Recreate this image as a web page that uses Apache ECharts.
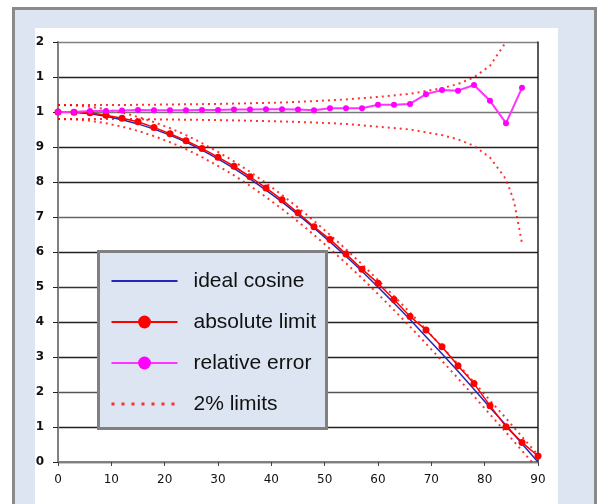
<!DOCTYPE html>
<html>
<head>
<meta charset="utf-8">
<script src="https://cdn.jsdelivr.net/npm/echarts@6/dist/echarts.min.js"></script>
<style>
  html, body { margin: 0; padding: 0; background: #fff; }
  .frame {
    position: absolute; left: 12px; top: 7px; width: 579px; height: 520px;
    background: #dce5f1; border: 3px solid #8a8a8a;
  }
  .sheet {
    position: absolute; left: 35px; top: 28px; width: 523px; height: 490px;
    background: #fff;
  }
  #chart { position: absolute; left: 0; top: 0; width: 604px; height: 504px; }
</style>
</head>
<body>
<div class="frame"></div>
<div class="sheet"></div>
<div id="chart"></div>
<script>
// angle in degrees, one point every 3 degrees
const degrees = [0, 3, 6, 9, 12, 15, 18, 21, 24, 27, 30, 33, 36, 39, 42, 45, 48, 51, 54, 57, 60, 63, 66, 69, 72, 75, 78, 81, 84, 87, 90]
const idealCosine = [1.000, 0.999, 0.995, 0.988, 0.978, 0.966, 0.951, 0.934, 0.914, 0.891, 0.866, 0.839, 0.809, 0.777, 0.743, 0.707, 0.669, 0.629, 0.588, 0.545, 0.500, 0.454, 0.407, 0.358, 0.309, 0.259, 0.208, 0.156, 0.105, 0.052, 0.000]
const absoluteLimit = [1.000, 0.999, 0.998, 0.991, 0.982, 0.972, 0.956, 0.938, 0.918, 0.896, 0.871, 0.845, 0.815, 0.783, 0.749, 0.712, 0.672, 0.636, 0.594, 0.551, 0.511, 0.464, 0.416, 0.377, 0.329, 0.275, 0.224, 0.161, 0.101, 0.056, 0.017]
// 0..87 degrees
const relativeError = [1.000, 1.000, 1.003, 1.003, 1.004, 1.006, 1.005, 1.005, 1.005, 1.006, 1.006, 1.007, 1.007, 1.008, 1.008, 1.007, 1.005, 1.011, 1.011, 1.011, 1.021, 1.021, 1.023, 1.051, 1.063, 1.061, 1.077, 1.032, 0.968, 1.069]

// 2% limit curves
const cosUpper = [1.020, 1.019, 1.015, 1.008, 0.998, 0.986, 0.971, 0.954, 0.934, 0.911, 0.886, 0.859, 0.829, 0.797, 0.763, 0.727, 0.689, 0.649, 0.608, 0.565, 0.520, 0.474, 0.427, 0.378, 0.329, 0.279, 0.228, 0.176, 0.125, 0.072, 0.020]
const cosLower = [0.980, 0.979, 0.975, 0.968, 0.958, 0.946, 0.931, 0.914, 0.894, 0.871, 0.846, 0.819, 0.789, 0.757, 0.723, 0.687, 0.649, 0.609, 0.568, 0.525, 0.480, 0.434, 0.387, 0.338, 0.289, 0.239, 0.188, 0.136, 0.085, 0.032, -0.020]
const relLimitDegrees = [0, 6, 12, 18, 24, 30, 36, 42, 48, 54, 60, 66, 72, 75, 78, 81, 84, 85.5, 87]
const relUpper = [1.020, 1.020, 1.020, 1.021, 1.022, 1.023, 1.025, 1.027, 1.031, 1.036, 1.043, 1.052, 1.068, 1.080, 1.099, 1.132, 1.200]
const relLower = [0.980, 0.980, 0.980, 0.979, 0.978, 0.977, 0.975, 0.973, 0.970, 0.966, 0.958, 0.950, 0.934, 0.922, 0.903, 0.870, 0.808, 0.745, 0.625]

const xTicks = [0, 10, 20, 30, 40, 50, 60, 70, 80, 90]
const yTickLabels = ['0', '1', '2', '3', '4', '5', '6', '7', '8', '9', '1', '1', '2']

const pairs = (xs, ys) => ys.map((y, i) => [xs[i], y])

const chart = echarts.init(document.getElementById('chart'))

const dotted = {
  type: 'line',
  name: '2% limits',
  symbol: 'none',
  lineStyle: { color: 'rgba(255, 0, 0, 0.8)', width: 2, type: [2, 4] },
  z: 2,
}

const noMarker = { color: 'rgba(0,0,0,0)', borderWidth: 0 }

chart.setOption({
  animation: false,
  backgroundColor: 'transparent',
  grid: { left: 58, top: 42, right: 66, bottom: 42 },
  xAxis: {
    type: 'value',
    min: 0,
    max: 90,
    interval: 10,
    axisLine: { lineStyle: { color: '#808080', width: 2 } },
    axisTick: { show: true, length: 4, lineStyle: { color: '#444' } },
    axisLabel: {
      margin: 12,
      color: '#111',
      fontFamily: 'DejaVu Sans',
      fontSize: 12,
      formatter: (v) => (xTicks.includes(v) ? String(v) : ''),
    },
    splitLine: { show: false },
  },
  yAxis: [
    {
      type: 'value',
      min: 0,
      max: 1.2,
      interval: 0.1,
      axisLine: { show: true, lineStyle: { color: '#808080', width: 2 } },
      axisTick: { show: true, length: 5, lineStyle: { color: '#222' } },
      axisLabel: {
        margin: 14,
        color: '#111',
        fontFamily: 'DejaVu Sans',
        fontWeight: 'bold',
        fontSize: 12,
        formatter: (v) => yTickLabels[Math.round(v * 10)],
      },
      splitLine: {
        lineStyle: {
          color: ['#222', '#222', '#555', '#222', '#222', '#333', '#222', '#666', '#222', '#222', '#777', '#222', '#808080'],
          width: 1.3,
        },
      },
    },
    {
      type: 'value',
      position: 'right',
      min: 0,
      max: 1.2,
      interval: 0.1,
      axisLine: { show: true, lineStyle: { color: '#222', width: 1.5 } },
      axisTick: { show: false },
      axisLabel: { show: false },
      splitLine: { show: false },
    },
  ],
  legend: {
    orient: 'vertical',
    left: 105,
    top: 264,
    itemWidth: 66,
    itemHeight: 16,
    itemGap: 17,
    z: 6,
    selectedMode: false,
    data: [
      { name: 'ideal cosine', itemStyle: noMarker },
      { name: 'absolute limit' },
      { name: 'relative error' },
      { name: '2% limits', itemStyle: noMarker, lineStyle: { width: 3, type: [3, 7] } },
    ],
    textStyle: {
      fontFamily: 'Liberation Sans, Arial, sans-serif',
      fontSize: 21,
      color: '#111',
      lineHeight: 24,
      padding: [0, 0, 0, 11],
    },
  },
  graphic: [
    {
      type: 'rect',
      z: 5,
      shape: { x: 98.5, y: 251.5, width: 228, height: 177 },
      style: { fill: '#dce5f1', stroke: '#808080', lineWidth: 3 },
    },
  ],
  series: [
    Object.assign({}, dotted, { data: pairs(degrees, cosUpper) }),
    Object.assign({}, dotted, { data: pairs(degrees, cosLower) }),
    Object.assign({}, dotted, { data: pairs(relLimitDegrees, relUpper) }),
    Object.assign({}, dotted, { data: pairs(relLimitDegrees, relLower) }),
    {
      name: 'ideal cosine',
      type: 'line',
      symbol: 'none',
      data: pairs(degrees, idealCosine),
      lineStyle: { color: '#2626b8', width: 1.5 },
      itemStyle: { color: '#0000ff' },
      z: 3,
    },
    {
      name: 'absolute limit',
      type: 'line',
      symbol: 'circle',
      symbolSize: 7,
      data: pairs(degrees, absoluteLimit),
      lineStyle: { color: '#ff0000', width: 1.5 },
      itemStyle: { color: '#ff0000' },
      z: 4,
    },
    {
      name: 'relative error',
      type: 'line',
      symbol: 'circle',
      symbolSize: 6,
      data: pairs(degrees, relativeError),
      lineStyle: { color: '#ff33ff', width: 2 },
      itemStyle: { color: '#ff00ff' },
      z: 4,
    },
  ],
})
</script>
</body>
</html>
